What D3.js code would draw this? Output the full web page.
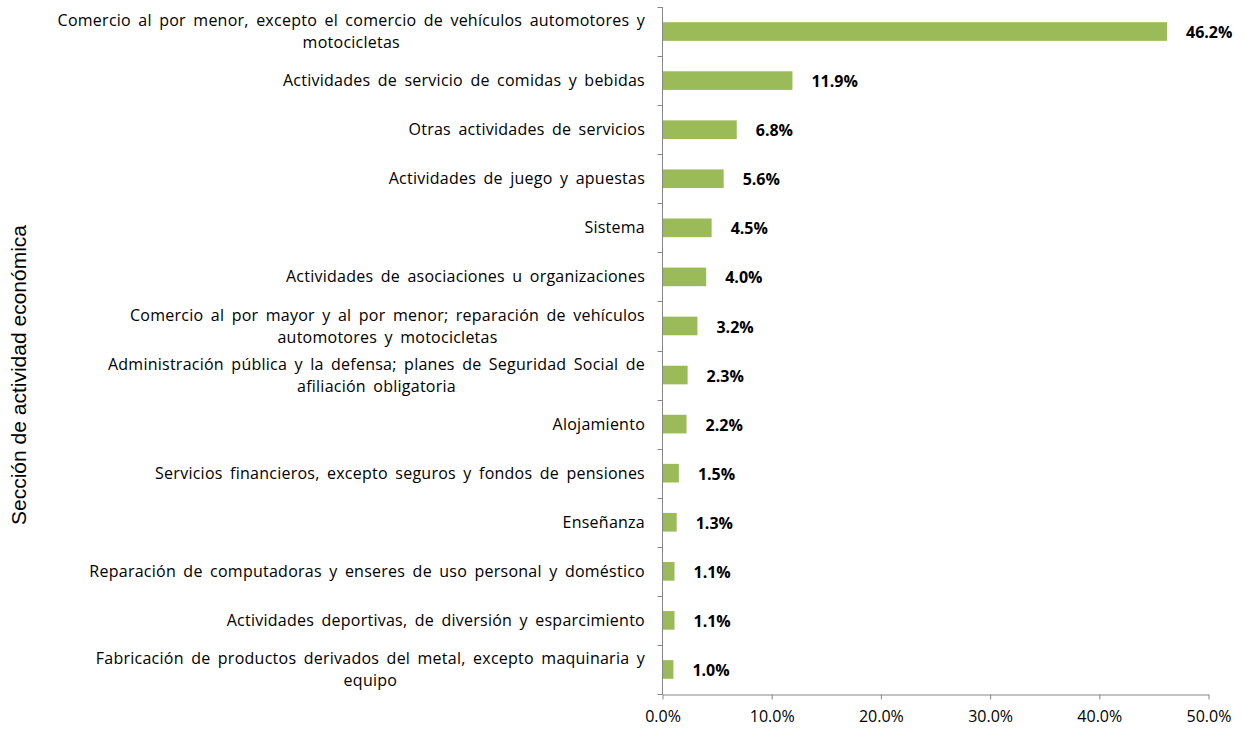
<!DOCTYPE html>
<html>
<head>
<meta charset="utf-8">
<script src="https://cdn.jsdelivr.net/npm/d3@7"></script>
<style>
  body { margin: 0; background: #fff; }
  svg { display: block; }
</style>
</head>
<body>
<svg id="chart"></svg>
<script>
/*
Chart data
 */
var categories = [
    ["Comercio al por menor, excepto el comercio de vehículos automotores y", "motocicletas"],
    ["Actividades de servicio de comidas y bebidas"],
    ["Otras actividades de servicios"],
    ["Actividades de juego y apuestas"],
    ["Sistema"],
    ["Actividades de asociaciones u organizaciones"],
    ["Comercio al por mayor y al por menor; reparación de vehículos", "automotores y motocicletas"],
    ["Administración pública y la defensa; planes de Seguridad Social de", "afiliación obligatoria"],
    ["Alojamiento"],
    ["Servicios financieros, excepto seguros y fondos de pensiones"],
    ["Enseñanza"],
    ["Reparación de computadoras y enseres de uso personal y doméstico"],
    ["Actividades deportivas, de diversión y esparcimiento"],
    ["Fabricación de productos derivados del metal, excepto maquinaria y", "equipo"]
];
var values = [46.2, 11.9, 6.8, 5.6, 4.5, 4.0, 3.2, 2.3, 2.2, 1.5, 1.3, 1.1, 1.1, 1.0];
var xTicks = [0, 10, 20, 30, 40, 50];
var yTitle = "Sección de actividad económica";

/*
Static constants
 */
const width = 1244;
const height = 732;
const barColor = "#9bbb59";
const axisColor = "#868686";
const labelFont = "'Open Sans', sans-serif";

var svg = d3.select("#chart")
    .attr("width", width)
    .attr("height", height);

var x = d3.scaleLinear()
    .domain([0, 50])
    .range([662.5, 1208.5]);

var y = d3.scaleBand()
    .domain(d3.range(categories.length))
    .range([7, 694])
    .padding(0);

var barH = y.bandwidth() * 0.38;

//bars
svg.append("g")
    .selectAll("rect")
    .data(values)
    .join("rect")
    .attr("x", x(0))
    .attr("y", function(d, i) { return y(i) + y.bandwidth() / 2 - barH / 2; })
    .attr("width", function(d) { return x(d) - x(0); })
    .attr("height", barH)
    .attr("fill", barColor);

//value labels
svg.append("g")
    .selectAll("text")
    .data(values)
    .join("text")
    .attr("x", function(d) { return x(d) + 19; })
    .attr("y", function(d, i) { return y(i) + y.bandwidth() / 2 + 1; })
    .attr("dy", "0.35em")
    .attr("font-family", labelFont)
    .attr("font-weight", "bold")
    .attr("font-size", 16)
    .attr("fill", "#000")
    .text(function(d) { return d.toFixed(1) + "%"; });

//x axis
var xAxis = svg.append("g")
    .attr("transform", "translate(0," + 694.5 + ")")
    .call(d3.axisBottom(x).tickValues(xTicks).tickSize(5).tickSizeOuter(0)
        .tickFormat(function(d) { return d.toFixed(1) + "%"; }));
xAxis.select(".domain").attr("stroke", axisColor);
xAxis.selectAll(".tick line").attr("stroke", axisColor);
xAxis.selectAll(".tick text")
    .attr("y", 16)
    .attr("font-family", labelFont)
    .attr("font-size", 16)
    .attr("fill", "#000");

//y axis (line + ticks at band boundaries)
var yAxis = svg.append("g");
yAxis.append("line")
    .attr("x1", x(0)).attr("x2", x(0))
    .attr("y1", y.range()[0]).attr("y2", y.range()[1] + 0.5)
    .attr("stroke", axisColor);
yAxis.selectAll(".ytick")
    .data(d3.range(categories.length + 1))
    .join("line")
    .attr("class", "ytick")
    .attr("x1", x(0) - 5).attr("x2", x(0))
    .attr("y1", function(i) { return Math.round(y.range()[0] + i * y.bandwidth()) + 0.5; })
    .attr("y2", function(i) { return Math.round(y.range()[0] + i * y.bandwidth()) + 0.5; })
    .attr("stroke", axisColor);

//category labels, multi-line blocks centered, right edge at labelRight
const labelRight = 645;
const lineH = 22;
var labels = svg.append("g")
    .selectAll("g")
    .data(categories)
    .join("g");

labels.each(function(lines, i) {
    var g = d3.select(this);
    var cy = y(i) + y.bandwidth() / 2;
    var texts = lines.map(function(line, k) {
        return g.append("text")
            .attr("y", cy + (k - (lines.length - 1) / 2) * lineH)
            .attr("dy", "0.35em")
            .attr("font-family", labelFont)
            .attr("font-size", 16)
            .attr("word-spacing", "3px")
            .attr("letter-spacing", "0.25px")
            .attr("fill", "#000")
            .attr("text-anchor", "middle")
            .text(line);
    });
    var maxW = d3.max(texts, function(t) { return t.node().getComputedTextLength(); });
    texts.forEach(function(t) { t.attr("x", labelRight - maxW / 2); });
});

//y title
svg.append("text")
    .attr("transform", "translate(26,375) rotate(-90)")
    .attr("text-anchor", "middle")
    .attr("font-family", "'Liberation Sans', Arial, sans-serif")
    .attr("font-size", 21)
    .attr("fill", "#000")
    .text(yTitle);
</script>
</body>
</html>
